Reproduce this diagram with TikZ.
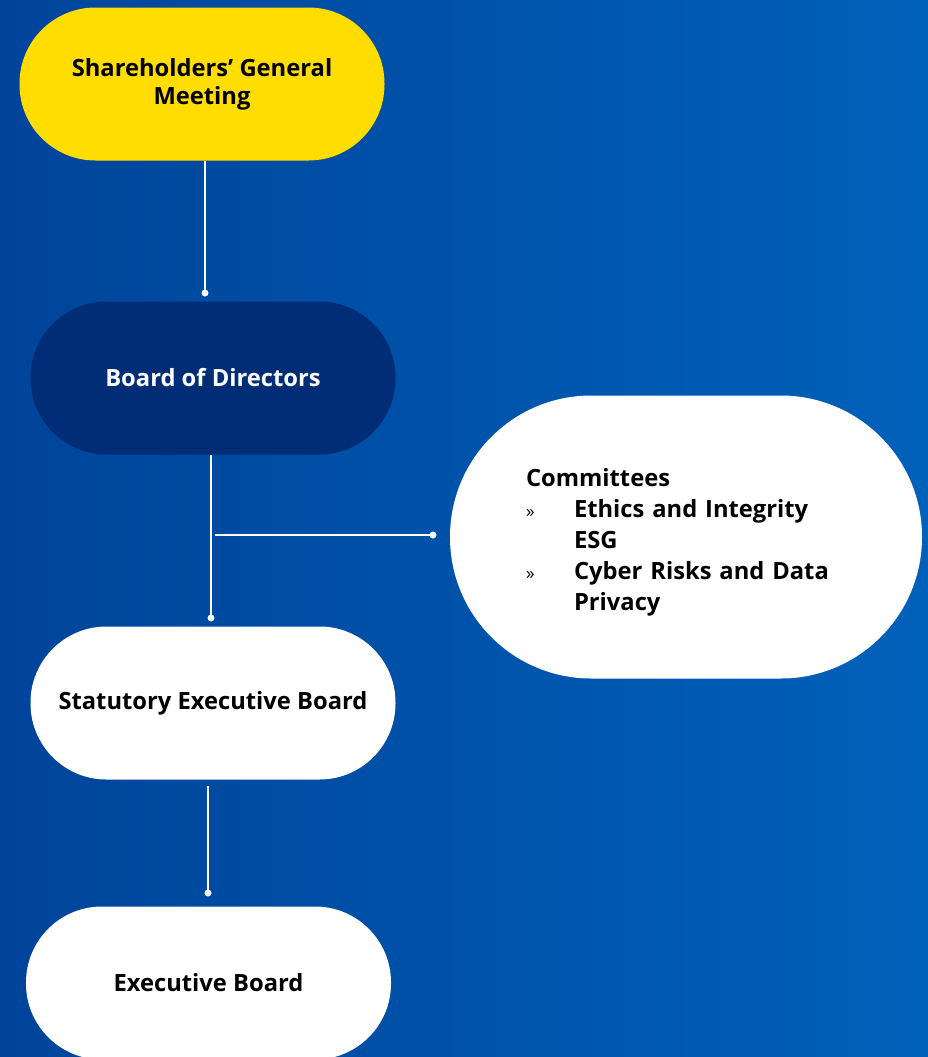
\documentclass[tikz,border=0pt]{standalone}
\usepackage{fontspec}
\setmainfont{Open Sans}
\usetikzlibrary{positioning}

\definecolor{bgleft}{HTML}{00449A}
\definecolor{bgright}{HTML}{0061BA}
\definecolor{gmyellow}{HTML}{FFDD00}
\definecolor{bodnavy}{HTML}{002D75}

\tikzset{
  every node/.style={
    font=\bfseries\fontsize{17.8}{23.25}\selectfont,
    align=center
  },
  pill/.style={
    rounded corners=57pt,
    minimum width=273.75pt,
    minimum height=114.75pt,
    inner sep=0pt
  },
  link/.style={
    white,
    line width=1.1pt
  }
}

\newcommand{\bul}{\makebox[36pt][l]{\mdseries\fontsize{13}{13}\selectfont »}}

\begin{document}
\begin{tikzpicture}[x=0.75pt,y=-0.75pt]

    % fond
    \useasboundingbox (0,0) rectangle (928,1057);
    \shade[left color=bgleft,right color=bgright] (0,0) rectangle (928,1057);

    % organes
    \node[pill,fill=gmyellow,font=\bfseries\fontsize{17.8}{21}\selectfont] (agm) at (202,84)
        {Shareholders’ General\\Meeting};
    \node[pill,fill=bodnavy,text=white] (bod) at (213,378) {Board of Directors};
    \node[pill,fill=white,rounded corners=106pt,minimum width=354pt,
          minimum height=212.25pt,text width=240pt,align=left] (comit) at (686,537)
        {\rule{0pt}{22pt}Committees\\
         \bul Ethics and Integrity\\
         \hspace*{36pt}ESG\\
         \bul Cyber Risks and Data\\
         \hspace*{36pt}Privacy};
    \node[pill,fill=white] (seb) at (213,703) {Statutory Executive Board};
    \node[pill,fill=white] (exb) at (208.5,983) {Executive Board};

    % points d'arrivee
    \coordinate (boddot) at (205,293);
    \coordinate (sebdot) at (211,618);
    \coordinate (tee) at (215,535);
    \coordinate (comitdot) at (433,535);
    \coordinate (sebfoot) at (208,786);
    \coordinate (exbdot) at (208,893);

    % liaisons
    \draw[link] (agm.south -| boddot) -- (boddot);
    \draw[link] (bod.south -| sebdot) -- (sebdot);
    \draw[link] (tee) -- (comitdot);
    \draw[link] (sebfoot) -- (exbdot);
    \foreach \p in {boddot,sebdot,comitdot,exbdot} {
        \fill[white] (\p) circle (3.5);
    }

\end{tikzpicture}
\end{document}
